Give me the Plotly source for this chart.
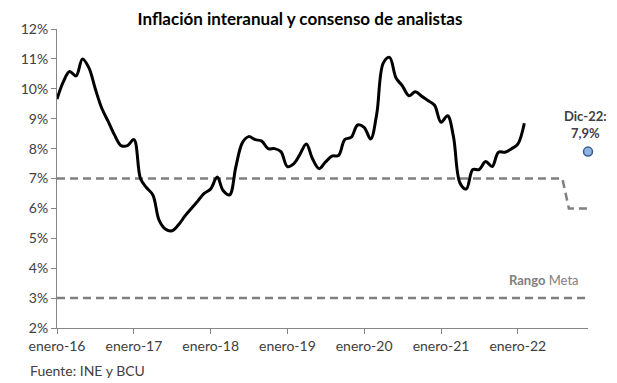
import plotly.graph_objects as go
import pandas as pd

# ---- data ----
months = [d.strftime("%Y-%m-%d") for d in pd.date_range("2016-01-01", "2022-12-01", freq="MS")]

inflacion = [
    9.66, 10.25, 10.58, 10.43, 11.00, 10.70, 10.00, 9.35, 8.90, 8.45, 8.10, 8.10,   # 2016
    8.30, 7.00, 6.70, 6.45, 5.60, 5.30, 5.25, 5.45, 5.75, 6.00, 6.25, 6.50,        # 2017
    6.65, 7.05, 6.60, 6.45, 7.40, 8.20, 8.40, 8.30, 8.25, 8.00, 8.00, 7.90,        # 2018
    7.40, 7.50, 7.80, 8.15, 7.65, 7.33, 7.55, 7.75, 7.77, 8.30, 8.38, 8.79,        # 2019
    8.71, 8.32, 9.16, 10.86, 11.05, 10.36, 10.10, 9.77, 9.90, 9.75, 9.60, 9.45,    # 2020
    8.88, 9.10, 8.40, 6.85, 6.65, 7.30, 7.30, 7.57, 7.40, 7.88, 7.88, 7.99,        # 2021
    8.15, 8.85,                                                                   # 2022
]
inflacion_x = months[:len(inflacion)]

techo = [7.0] * 80 + [6.0] * 4      # upper limit of target range
piso = [3.0] * 84                    # lower limit of target range

consenso_x = ["2022-12-01"]
consenso = [7.9]

tick_dates = ["2016-01-01", "2017-01-01", "2018-01-01", "2019-01-01",
              "2020-01-01", "2021-01-01", "2022-01-01"]
tick_labels = ["enero-16", "enero-17", "enero-18", "enero-19",
               "enero-20", "enero-21", "enero-22"]
y_ticks = [2, 3, 4, 5, 6, 7, 8, 9, 10, 11, 12]
y_tick_labels = ["2%", "3%", "4%", "5%", "6%", "7%", "8%", "9%", "10%", "11%", "12%"]

FONT = "Lato"
GRAY = "#808080"
TXT = "#404040"

# page body has an 8px margin, so the figure is drawn 8px smaller
W, H = 609, 375
L, R, T, B = 49, 29, 21, 55
PW, PH = W - L - R, H - T - B

fig = go.Figure()
fig.add_trace(go.Scatter(x=months, y=techo, mode="lines",
                         line=dict(color=GRAY, width=2.5, dash="8px,5px"),
                         hoverinfo="skip", showlegend=False))
fig.add_trace(go.Scatter(x=months, y=piso, mode="lines",
                         line=dict(color=GRAY, width=2.5, dash="8px,5px"),
                         hoverinfo="skip", showlegend=False))
fig.add_trace(go.Scatter(x=inflacion_x, y=inflacion, mode="lines",
                         line=dict(color="black", width=3, shape="spline", smoothing=1),
                         showlegend=False))
fig.add_trace(go.Scatter(x=consenso_x, y=consenso, mode="markers",
                         marker=dict(size=9, color="#8DB3E2",
                                     line=dict(color="#385D8A", width=1.5)),
                         showlegend=False, cliponaxis=False))

fig.update_layout(
    width=W, height=H,
    margin=dict(l=L, r=R, t=T, b=B, autoexpand=False),
    paper_bgcolor="white", plot_bgcolor="white",
    font=dict(family=FONT, size=14, color=TXT),
    title=dict(text="<b>Inflación interanual y consenso de analistas</b>",
               x=292 / W, xanchor="center", y=1 - 11 / H, yanchor="middle",
               font=dict(family=FONT, size=17, color="#000000")),
    xaxis=dict(type="date", range=["2016-01-01", "2022-12-01"],
               tickvals=tick_dates, ticktext=tick_labels,
               showgrid=False, zeroline=False,
               showline=True, linecolor="#868686", linewidth=1,
               ticks="outside", ticklen=5, tickcolor="#868686",
               tickfont=dict(family=FONT, size=14, color=TXT)),
    yaxis=dict(range=[2, 12], tickvals=y_ticks, ticktext=y_tick_labels,
               showgrid=False, zeroline=False,
               showline=True, linecolor="#868686", linewidth=1,
               ticks="outside", ticklen=5, tickcolor="#868686",
               tickfont=dict(family=FONT, size=14, color=TXT)),
    annotations=[
        dict(x="2022-12-01", y=8.8, xref="x", yref="y", xshift=-3,
             text="<b>Dic-22:<br>7,9%</b>", showarrow=False,
             xanchor="center", yanchor="middle", align="center",
             font=dict(family=FONT, size=13, color=TXT)),
        dict(x=(544 - 57) / PW, y=3.6, xref="paper", yref="y",
             text="<b>Rango</b> Meta", showarrow=False,
             xanchor="center", yanchor="middle",
             font=dict(family=FONT, size=13, color=GRAY)),
        dict(x=(20 - L) / PW, y=(H - B - 363) / PH, xref="paper", yref="paper",
             text="Fuente: INE y BCU", showarrow=False,
             xanchor="left", yanchor="middle",
             font=dict(family=FONT, size=14, color=TXT)),
    ],
)

fig.write_html("out.html")
